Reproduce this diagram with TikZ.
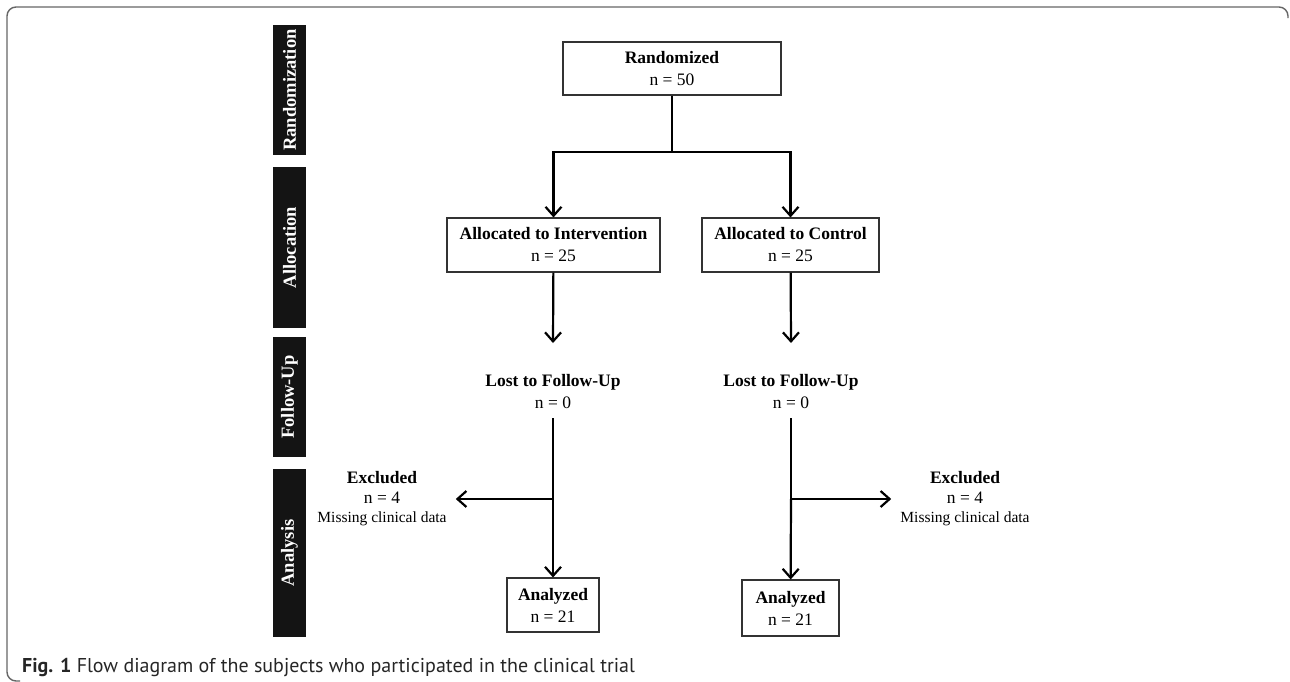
\documentclass[tikz,border=0pt]{standalone}
\usepackage{fontspec}
\setmainfont{Liberation Serif}
\newfontfamily\capfont{PT Sans}
\usetikzlibrary{arrows.meta,positioning}

\begin{document}
\begin{tikzpicture}[
        x=1pt, y=-1pt,
        box/.style={draw=black!80, line width=1.1pt, align=center, inner sep=0pt,
            font=\fontsize{17.5}{22}\selectfont, minimum height=54pt},
        txt/.style={align=center, inner xsep=0pt, inner ysep=9pt,
            font=\fontsize{17.5}{22}\selectfont},
        excl/.style={align=center, inner xsep=9pt, inner ysep=0pt,
            font=\fontsize{17.5}{19.5}\selectfont},
        bar/.style={fill=black!92, text=white, rotate=90, inner sep=0pt,
            font=\bfseries\fontsize{18.5}{20}\selectfont, minimum height=33pt},
        line/.style={line width=2.2pt},
        arr/.style={-{Straight Barb[length=9pt,width=16pt]}, line width=2.2pt}
    ]
    \useasboundingbox (0,0) rectangle (1290,681);
    % frame
    \draw[black!60, line width=1.4pt, rounded corners=9pt]
        (1288,18) -- (1288,7) -- (7,7) -- (7,681) -- (20,681);
    % phase bars
    \node[bar, minimum width=130pt] (barRand) at (289.5,90) {Randomization};
    \node[bar, minimum width=161pt] (barAlloc) at (289.5,247.5) {Allocation};
    \node[bar, minimum width=120pt] (barFollow) at (289.5,397) {Follow-Up};
    \node[bar, minimum width=168pt] (barAna) at (289.5,553) {Analysis};
    % boxes
    \node[box, minimum width=218pt, minimum height=53pt] (rand) at (672,68.5) {\textbf{Randomized}\\n = 50};
    \node[box, minimum width=213pt] (allocI) at (553.5,245) {\textbf{Allocated to Intervention}\\n = 25};
    \node[box, minimum width=177pt] (allocC) at (790.5,245) {\textbf{Allocated to Control}\\n = 25};
    \node[txt] (lostI) at (553,392) {\textbf{Lost to Follow-Up}\\n = 0};
    \node[txt] (lostC) at (791,392) {\textbf{Lost to Follow-Up}\\n = 0};
    \node[excl] (exclI) at (382,499) {\textbf{Excluded}\\n = 4\\{\fontsize{15.5}{19}\selectfont Missing clinical data}};
    \node[excl] (exclC) at (965,499) {\textbf{Excluded}\\n = 4\\{\fontsize{15.5}{19}\selectfont Missing clinical data}};
    \node[box, minimum width=92pt] (anaI) at (553,605) {\textbf{Analyzed}\\n = 21};
    \node[box, minimum width=97pt, minimum height=56pt] (anaC) at (790.5,608) {\textbf{Analyzed}\\n = 21};
    % branch points
    \coordinate (split) at (672,152);
    \coordinate (inI) at (553,343);
    \coordinate (inC) at (791,343);
    \coordinate (brI) at (553,499);
    \coordinate (brC) at (791,499);
    % connectors
    \draw[line] (rand) -- (split);
    \draw[arr] (split) -| (allocI);
    \draw[arr] (split) -| (allocC);
    \draw[arr] (allocI) -- (inI);
    \draw[arr] (allocC) -- (inC);
    \draw[line] (lostI) -- (brI);
    \draw[line] (lostC) -- (brC);
    \draw[arr] (brI) -- (exclI);
    \draw[arr] (brC) -- (exclC);
    \draw[arr] (brI) -- (anaI);
    \draw[arr] (brC) -- (anaC);
    % caption
    \node[anchor=west, inner sep=0pt, text=black!85, font=\capfont\fontsize{20}{24}\selectfont]
        (cap) at (22,667) {\textbf{Fig. 1} Flow diagram of the subjects who participated in the clinical trial};
\end{tikzpicture}
\end{document}
